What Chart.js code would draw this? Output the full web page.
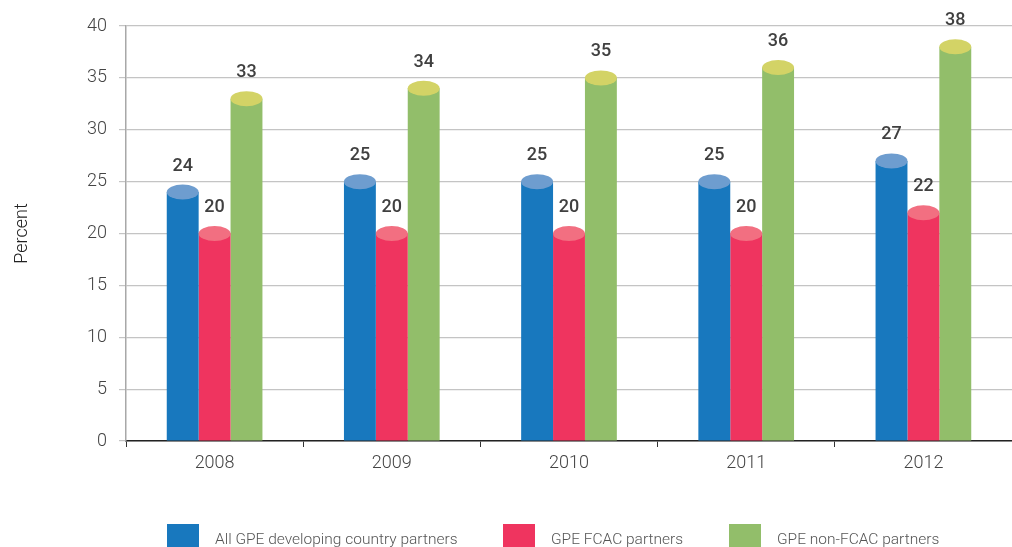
<!DOCTYPE html>
<html>
<head>
<meta charset="utf-8">
<script src="https://cdn.jsdelivr.net/npm/chart.js@4.4.1/dist/chart.umd.min.js"></script>
<style>
html,body{margin:0;padding:0;background:#fff;}
#wrap{width:1012px;height:547px;position:relative;}
</style>
</head>
<body>
<div id="wrap"><canvas id="c" width="1012" height="547"></canvas></div>
<script>
const categories = ['2008','2009','2010','2011','2012'];
const seriesNames = ['All GPE developing country partners','GPE FCAC partners','GPE non-FCAC partners'];
const allGPE = [24,25,25,25,27];
const fcac = [20,20,20,20,22];
const nonFcac = [33,34,35,36,38];
const yTicks = [0,5,10,15,20,25,30,35,40];

const bodyColors = ['#1878BE','#EF345F','#92BE6A'];
const topColors = ['#6E9DCF','#F26F81','#D3D366'];

const cylinderPlugin = {
  id:'cyl',
  afterDatasetsDraw(chart){
    const ctx = chart.ctx;
    chart.data.datasets.forEach((ds,i)=>{
      const meta = chart.getDatasetMeta(i);
      meta.data.forEach((bar,j)=>{
        const w = bar.width;
        ctx.save();
        ctx.beginPath();
        ctx.ellipse(bar.x, bar.y, w/2, 7.5, 0, 0, Math.PI*2);
        ctx.fillStyle = topColors[i];
        ctx.fill();
        ctx.restore();
        ctx.save();
        ctx.font = '500 18px Roboto';
        ctx.fillStyle = '#404040';
        ctx.textAlign = 'center';
        ctx.textBaseline = 'middle';
        ctx.fillText(String(ds.data[j]), bar.x, bar.y - 26);
        ctx.restore();
      });
    });
  }
};

const legendPlugin = {
  id:'customLegend',
  afterDraw(chart){
    const ctx = chart.ctx;
    const xs = [167,503,729];
    ctx.save();
    chart.data.datasets.forEach((ds,i)=>{
      ctx.fillStyle = ds.backgroundColor;
      ctx.fillRect(xs[i], 524, 32, 24);
      ctx.fillStyle = '#555';
      ctx.font = '300 15.5px Roboto';
      ctx.textAlign = 'left';
      ctx.textBaseline = 'middle';
      ctx.fillText(ds.label, xs[i]+48, 540);
    });
    ctx.restore();
  }
};

new Chart(document.getElementById('c'), {
  type:'bar',
  data:{
    labels:categories,
    datasets:[
      {label:seriesNames[0], data:allGPE, backgroundColor:bodyColors[0]},
      {label:seriesNames[1], data:fcac, backgroundColor:bodyColors[1]},
      {label:seriesNames[2], data:nonFcac, backgroundColor:bodyColors[2]}
    ]
  },
  options:{
    responsive:false,
    animation:false,
    devicePixelRatio:1,
    layout:{padding:{top:26,right:0,bottom:0,left:0}},
    datasets:{bar:{barPercentage:1.0,categoryPercentage:0.54}},
    plugins:{legend:{display:false},tooltip:{enabled:false}},
    scales:{
      x:{
        grid:{display:true,drawOnChartArea:false,drawTicks:true,tickLength:6,color:'#333',offset:true},
        border:{display:true,color:'#222',width:1.5},
        ticks:{color:'#444',font:{family:'Roboto',size:18,weight:'300'},padding:6},
        afterFit(s){ s.height = 106; }
      },
      y:{
        min:0,max:40,
        afterBuildTicks(s){ s.ticks = yTicks.map(v=>({value:v})); },
        grid:{color:'#C4C4C4',lineWidth:1.2,drawTicks:true,tickLength:7},
        border:{display:true,color:'#A8A8A8',width:1.5},
        ticks:{color:'#444',font:{family:'Roboto',size:18,weight:'300'},padding:12},
        title:{display:true,text:'Percent',color:'#222',font:{family:'Roboto',size:18,weight:'300'},padding:{top:12,bottom:0}},
        afterFit(s){ s.width = 126; }
      }
    }
  },
  plugins:[cylinderPlugin,legendPlugin]
});
</script>
</body>
</html>
